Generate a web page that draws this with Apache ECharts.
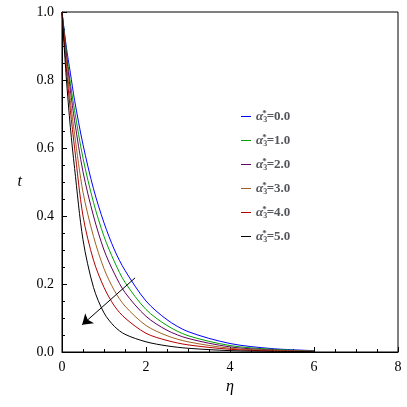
<!DOCTYPE html><html><head><meta charset="utf-8"><script src="https://cdn.jsdelivr.net/npm/echarts@6/dist/echarts.min.js"></script></head><body style="margin:0"><div id="c" style="width:407px;height:407px"></div><script>
const eta=[0,0.1,0.2,0.3,0.5,0.75,1,1.25,1.5,2,2.5,3,4,5,6];
const labels=['0.0','1.0','2.0','3.0','4.0','5.0'];
const colors=['#0000ff','#00a000','#600060','#a06020','#b00000','#000000'];
const t0=[1,0.9,0.82,0.74,0.61,0.48,0.38,0.30,0.24,0.15,0.095,0.06,0.025,0.01,0.004];
const t1=[1,0.89,0.79,0.71,0.57,0.44,0.34,0.265,0.205,0.125,0.078,0.048,0.019,0.008,0.003];
const t2=[1,0.88,0.77,0.68,0.53,0.40,0.30,0.23,0.175,0.105,0.064,0.04,0.015,0.006,0.002];
const t3=[1,0.86,0.74,0.64,0.47,0.34,0.245,0.18,0.135,0.078,0.048,0.03,0.011,0.005,0.002];
const t4=[1,0.84,0.71,0.60,0.40,0.27,0.19,0.135,0.10,0.055,0.034,0.021,0.008,0.003,0.001];
const t5=[1,0.81,0.66,0.54,0.33,0.19,0.115,0.075,0.052,0.03,0.018,0.011,0.004,0.002,0.001];
const all=[t0,t1,t2,t3,t4,t5];
const arrow=[[1.74,0.218],[0.48,0.08]];
const f='Liberation Serif';
const series=all.map((d,i)=>({name:labels[i],type:'line',smooth:0.3,symbol:'none',data:eta.map((e,j)=>[e,d[j]]),lineStyle:{color:colors[i],width:1},itemStyle:{color:colors[i]}}));
series.push({type:'line',data:[],markLine:{silent:true,symbol:['none','arrow'],symbolSize:10,label:{show:false},lineStyle:{color:'#000',width:1,type:'solid'},data:[[{coord:arrow[0]},{coord:arrow[1]}]]}});
const ax={axisLine:{lineStyle:{color:'#000'}},axisTick:{inside:true,lineStyle:{color:'#000'}},minorTick:{show:true,splitNumber:4,lineStyle:{color:'#000'}},splitLine:{show:false},axisLabel:{color:'#000',fontFamily:f,fontSize:14}};
echarts.init(document.getElementById('c')).setOption({animation:false,
grid:{left:62,right:9,top:12,bottom:55,show:true,borderColor:'#000',borderWidth:1},
legend:{orient:'vertical',left:236,top:104,itemGap:9,itemWidth:10,itemHeight:1,icon:'rect',
 data:labels.map((l,i)=>({name:l,itemStyle:{color:colors[i]}})),
 formatter:n=>'{a|α}{b|3}{c|*}{d|='+n+'}',
 textStyle:{rich:{a:{fontFamily:f,fontStyle:'italic',fontWeight:'bold',fontSize:13},b:{fontFamily:f,fontWeight:'bold',fontSize:8,verticalAlign:'bottom',padding:[6,0,0,0]},c:{fontFamily:f,fontWeight:'bold',fontSize:9,verticalAlign:'top',padding:[0,0,6,-5]},d:{fontFamily:f,fontWeight:'bold',fontSize:13}}}},
xAxis:Object.assign({type:'value',min:0,max:8,interval:2,name:'η',nameLocation:'middle',nameGap:26,nameTextStyle:{fontFamily:f,fontStyle:'italic',fontSize:16,color:'#000'}},ax),
yAxis:Object.assign({type:'value',min:0,max:1,interval:0.2,name:'t',nameLocation:'middle',nameRotate:0,nameGap:40,nameTextStyle:{fontFamily:f,fontStyle:'italic',fontSize:16,color:'#000'},axisLabel:{color:'#000',fontFamily:f,fontSize:14,formatter:v=>v.toFixed(1)}},{axisLine:ax.axisLine,axisTick:ax.axisTick,minorTick:ax.minorTick,splitLine:ax.splitLine}),
series});
</script></body></html>
